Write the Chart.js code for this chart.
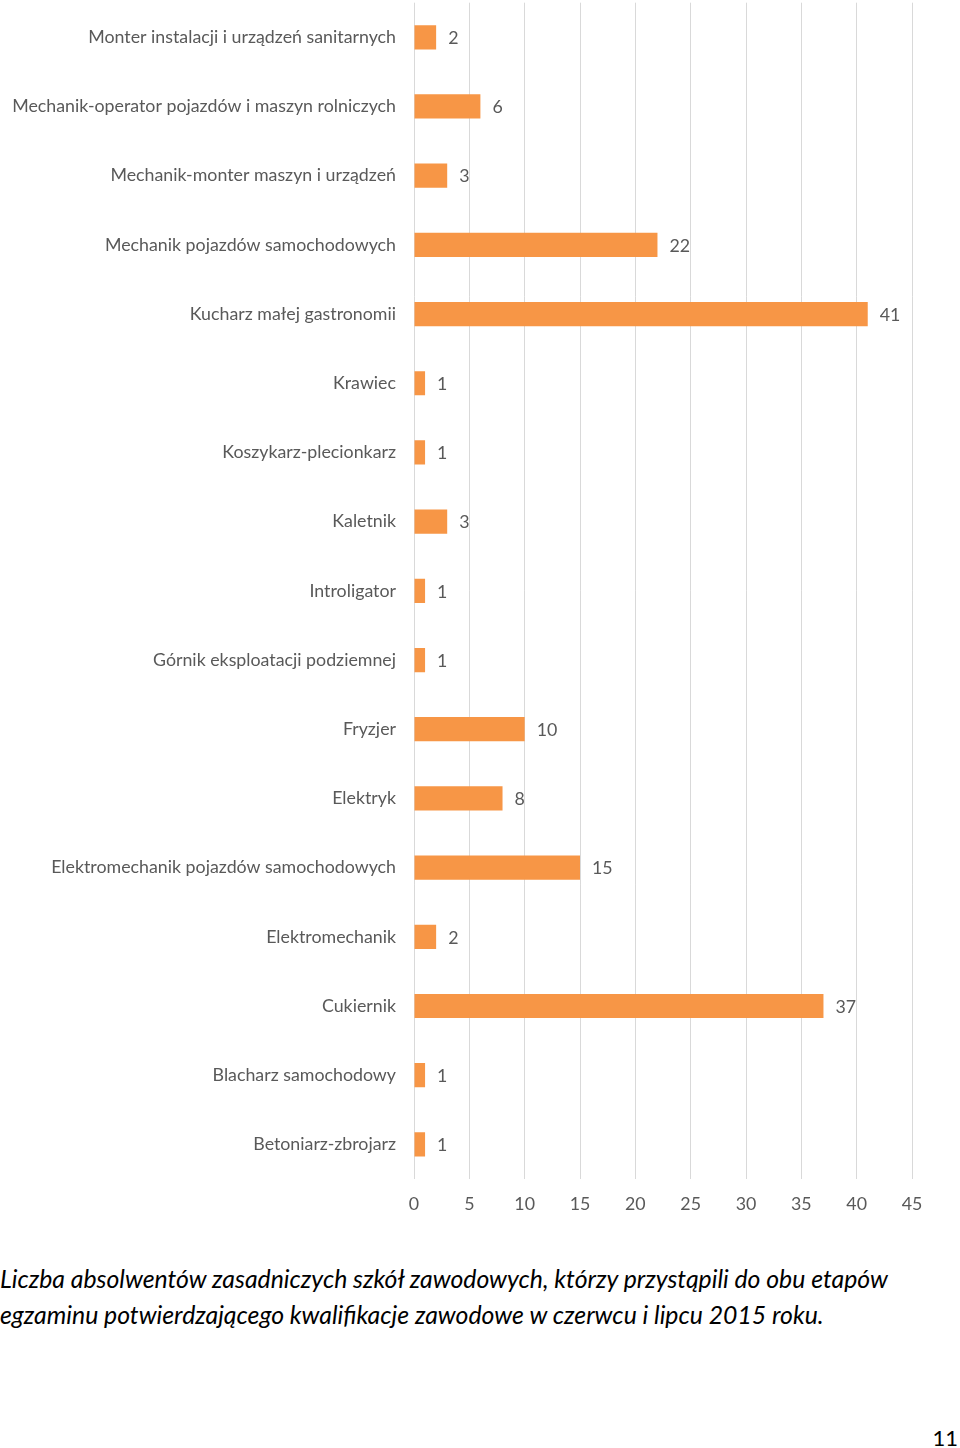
<!DOCTYPE html>
<html><head><meta charset="utf-8">
<script src="https://cdn.jsdelivr.net/npm/chart.js@4"></script>
<style>
html,body{margin:0;padding:0;background:#fff;width:960px;height:1448px;overflow:hidden;}
#wrap{position:absolute;left:0;top:-26px;width:960px;height:1256px;}
#cap{position:absolute;left:0;top:1261px;font-family:Lato,"Open Sans",sans-serif;font-style:italic;font-size:24.8px;line-height:36px;color:#000;white-space:nowrap;}
#pg{position:absolute;right:2px;top:1424px;font-family:Lato,sans-serif;font-size:22px;color:#000;}
</style></head><body>
<div id="wrap"><canvas id="c" width="960" height="1256"></canvas></div>
<div id="cap">Liczba absolwentów zasadniczych szkół zawodowych, którzy przystąpili do obu etapów<br>egzaminu potwierdzającego kwalifikacje zawodowe w czerwcu i lipcu 2015 roku.</div>
<div id="pg">11</div>
<script>
const categories = [
 "Monter instalacji i urządzeń sanitarnych",
 "Mechanik-operator pojazdów i maszyn rolniczych",
 "Mechanik-monter maszyn i urządzeń",
 "Mechanik pojazdów samochodowych",
 "Kucharz małej gastronomii",
 "Krawiec",
 "Koszykarz-plecionkarz",
 "Kaletnik",
 "Introligator",
 "Górnik eksploatacji podziemnej",
 "Fryzjer",
 "Elektryk",
 "Elektromechanik pojazdów samochodowych",
 "Elektromechanik",
 "Cukiernik",
 "Blacharz samochodowy",
 "Betoniarz-zbrojarz"
];
const values = [2,6,3,22,41,1,1,3,1,1,10,8,15,2,37,1,1];
const xTicks = [0,5,10,15,20,25,30,35,40,45];

const FONT = 'Lato, "Open Sans", sans-serif';
const labelPlugin = {
  id:'vals',
  afterDatasetsDraw(chart){
    const ctx = chart.ctx;
    const meta = chart.getDatasetMeta(0);
    ctx.save();
    ctx.font = '17.8px ' + FONT;
    ctx.fillStyle = '#595959';
    ctx.textBaseline = 'middle';
    ctx.textAlign = 'left';
    meta.data.forEach((el,i)=>{
      ctx.fillText(String(values[i]), el.x + 12, el.y + 1);
    });
    ctx.restore();
  }
};

new Chart(document.getElementById('c'), {
  type:'bar',
  data:{labels:categories, datasets:[{data:values, backgroundColor:'#F79646', borderWidth:0, barPercentage:0.7, categoryPercentage:0.5}]},
  options:{
    indexAxis:'y', responsive:false, animation:false,
    layout:{padding:{top:2,right:48,left:0,bottom:0}},
    plugins:{legend:{display:false}, tooltip:{enabled:false}},
    scales:{
      x:{min:0,max:45,
        afterBuildTicks(s){ s.ticks = xTicks.map(v=>({value:v})); },
        afterFit(s){ s.height = 51; },
        grid:{color:'#D9D9D9', drawTicks:false, lineWidth:1},
        border:{display:false},
        ticks:{padding:15, color:'#595959', font:{family:FONT,size:17.8}}
      },
      y:{
        afterFit(s){ s.width = 414; },
        grid:{display:false, drawTicks:false},
        border:{display:false},
        ticks:{padding:18, color:'#595959', font:{family:FONT,size:17.8}}
      }
    }
  },
  plugins:[labelPlugin]
});
</script>
</body></html>
